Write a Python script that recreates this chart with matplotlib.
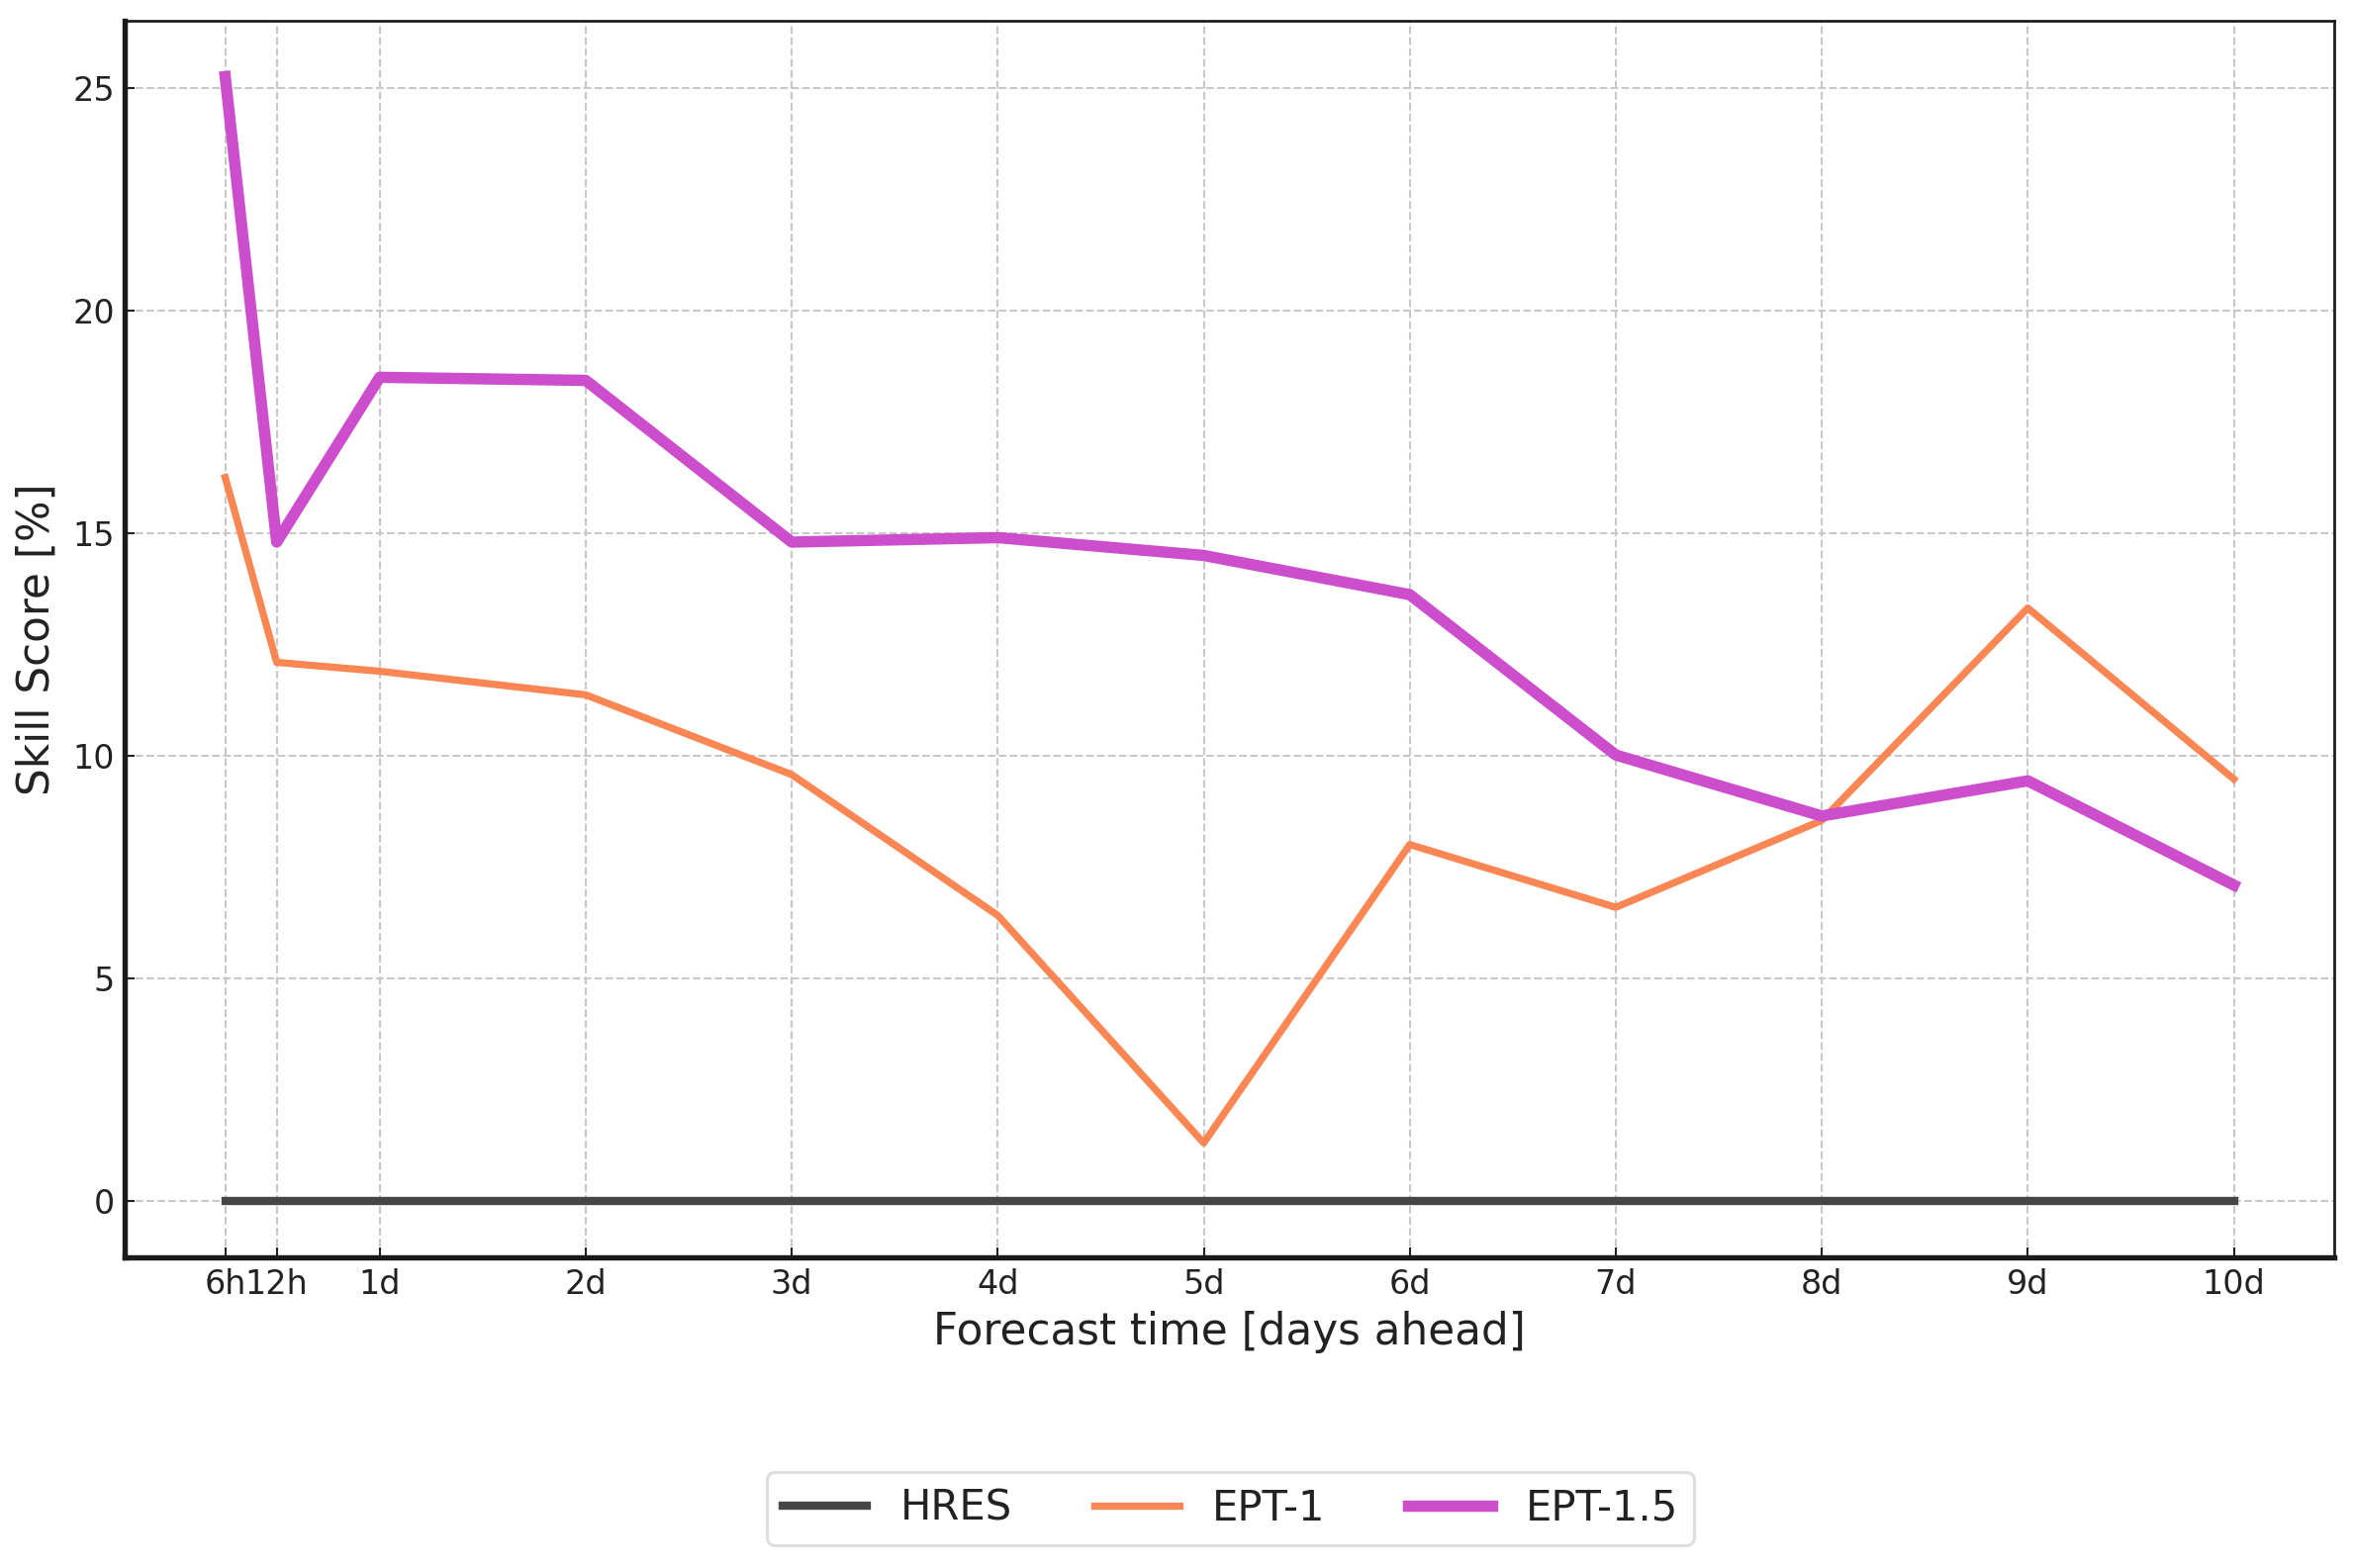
import matplotlib
matplotlib.use("Agg")
import matplotlib.pyplot as plt

# forecast lead times in days, with tick labels
lead_days = [0.25, 0.5, 1, 2, 3, 4, 5, 6, 7, 8, 9, 10]
lead_labels = ["6h", "12h", "1d", "2d", "3d", "4d", "5d", "6d", "7d", "8d", "9d", "10d"]

# skill scores [%] relative to HRES
hres = [0, 0, 0, 0, 0, 0, 0, 0, 0, 0, 0, 0]
ept1 = [16.25, 12.1, 11.9, 11.37, 9.58, 6.42, 1.31, 8.01, 6.6, 8.55, 13.32, 9.48]
ept15 = [25.25, 14.8, 18.5, 18.43, 14.8, 14.9, 14.5, 13.62, 10.02, 8.65, 9.44, 7.1]

text_color = "#222222"
plt.rcParams["font.family"] = "DejaVu Sans"

fig = plt.figure(figsize=(2379 / 150, 1585 / 150), dpi=150)
ax = fig.add_axes([0.053, 0.198, 0.9386, 0.789])

ax.plot(lead_days, hres, color="#464646", linewidth=4, label="HRES", zorder=3)
ax.plot(lead_days, ept1, color="#fa8653", linewidth=3.5, label="EPT-1", zorder=3)
ax.plot(lead_days, ept15, color="#cc4ecc", linewidth=5.5, label="EPT-1.5", zorder=4)

ax.set_xticks(lead_days)
ax.set_xticklabels(lead_labels)
ax.set_yticks([0, 5, 10, 15, 20, 25])

ax.grid(True, linestyle="--", color="#c8c8c8", linewidth=1)
ax.set_axisbelow(True)

ax.tick_params(direction="in", length=5, width=1, labelsize=16,
               colors=text_color, pad=5)
for side in ["left", "bottom"]:
    ax.spines[side].set_linewidth(2.6)
for side in ["top", "right"]:
    ax.spines[side].set_linewidth(1.3)
for sp in ax.spines.values():
    sp.set_color("#1a1a1a")

ax.set_xlabel("Forecast time [days ahead]", fontsize=21, color=text_color, labelpad=5)
ax.set_ylabel("Skill Score [%]", fontsize=21, color=text_color, labelpad=7)

leg = fig.legend(loc="center", bbox_to_anchor=(0.5226, 0.038), ncol=3,
                 fontsize=20, frameon=True, handlelength=2.05, columnspacing=2.0,
                 borderpad=0.38, borderaxespad=0.3)
leg.get_frame().set_edgecolor("#d6d6d6")
leg.get_frame().set_linewidth(1.5)
for t in leg.get_texts():
    t.set_color(text_color)

fig.savefig("out.png", dpi=150)
